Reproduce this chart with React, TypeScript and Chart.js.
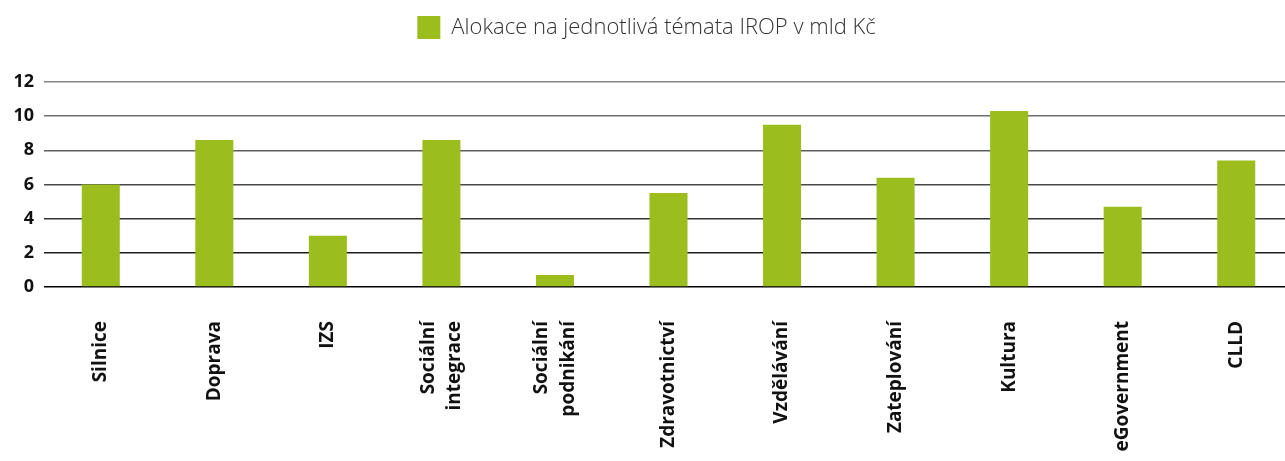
import React, { useEffect, useRef } from "react";
import { Chart, registerables } from "chart.js";

Chart.register(...registerables);

const categories: (string | string[])[] = [
  "Silnice",
  "Doprava",
  "IZS",
  ["Sociální", "integrace"],
  ["Sociální", "podnikání"],
  "Zdravotnictví",
  "Vzdělávání",
  "Zateplování",
  "Kultura",
  "eGovernment",
  "CLLD",
];

const seriesLabel = "Alokace na jednotlivá témata IROP v mld Kč";
const allocations = [6.0, 8.6, 3.0, 8.6, 0.7, 5.5, 9.5, 6.4, 10.3, 4.7, 7.4];

const yMin = 0;
const yMax = 12;
const yStep = 2;

const gridColors: Record<number, string> = {
  0: "#000000",
  2: "#1e1e1e",
  4: "#333333",
  6: "#4a4a4a",
  8: "#5e5e5e",
  10: "#707070",
  12: "#858585",
};

const X_FONT_SIZE = 19;
const X_LINE_HEIGHT = 1.4;

const legendSpacer = {
  id: "legendSpacer",
  beforeInit(chart: any) {
    const legend = chart.legend;
    if (!legend) return;
    const origFit = legend.fit;
    legend.fit = function () {
      origFit.call(this);
      this.height += 33;
    };
  },
};

const centerMultiline = {
  id: "centerMultiline",
  beforeDraw(chart: any) {
    const xs = chart.scales.x;
    if (!xs || !xs.getLabelItems) return;
    const items = xs.getLabelItems();
    const lh = X_FONT_SIZE * X_LINE_HEIGHT;
    items.forEach((it: any) => {
      if (it._centered) return;
      it._centered = true;
      if (Array.isArray(it.label) && it.label.length > 1 && it.options?.translation) {
        const n = it.label.length;
        it.options.translation = [
          it.options.translation[0] - ((n - 1) * lh) / 2,
          it.options.translation[1],
        ];
      }
    });
  },
};

export default function App() {
  const canvasRef = useRef<HTMLCanvasElement | null>(null);

  useEffect(() => {
    if (!canvasRef.current) return;
    const chart = new Chart(canvasRef.current, {
      type: "bar",
      data: {
        labels: categories,
        datasets: [
          {
            label: seriesLabel,
            data: allocations,
            backgroundColor: "#9bbe1e",
            borderWidth: 0,
            barPercentage: 0.335,
            categoryPercentage: 1,
          },
        ],
      },
      plugins: [legendSpacer, centerMultiline],
      options: {
        animation: false,
        responsive: true,
        maintainAspectRatio: false,
        layout: { padding: { top: 4, left: 0, right: 0, bottom: 0 } },
        plugins: {
          legend: {
            display: true,
            position: "top",
            labels: {
              boxWidth: 23,
              boxHeight: 23,
              padding: 12,
              color: "#333333",
              font: { family: "'Open Sans', sans-serif", size: 22, weight: "300" as any },
            },
          },
          tooltip: { enabled: false },
        },
        scales: {
          x: {
            grid: { display: false },
            border: { display: false },
            ticks: {
              maxRotation: 90,
              minRotation: 90,
              padding: 26,
              color: "#111111",
              font: {
                family: "'Open Sans', sans-serif",
                size: X_FONT_SIZE,
                weight: "bold",
                lineHeight: X_LINE_HEIGHT,
              },
            },
            afterFit: (scale: any) => {
              scale.height = 174;
            },
          },
          y: {
            min: yMin,
            max: yMax,
            border: { display: false },
            grid: {
              drawTicks: false,
              lineWidth: 1.5,
              color: (ctx: any) => gridColors[ctx.tick?.value] ?? "#666666",
            },
            ticks: {
              stepSize: yStep,
              padding: 10,
              color: "#111111",
              font: { family: "'Open Sans', sans-serif", size: 18, weight: "bold" },
            },
            afterFit: (scale: any) => {
              scale.width = 44;
            },
          },
        },
      },
    });
    return () => chart.destroy();
  }, []);

  return (
    <div
      style={{
        position: "absolute",
        left: 0,
        top: 0,
        width: 1285,
        height: 461,
        overflow: "hidden",
        background: "#ffffff",
      }}
    >
      <div style={{ position: "relative", width: 1293, height: 461 }}>
        <canvas ref={canvasRef} />
      </div>
    </div>
  );
}
